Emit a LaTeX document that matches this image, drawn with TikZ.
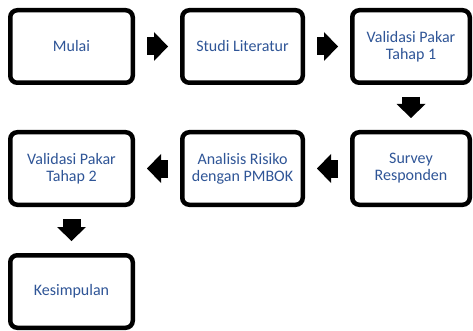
\documentclass[tikz,border=0pt]{standalone}
\usepackage{fontspec}
\setmainfont{Carlito}
\usetikzlibrary{arrows.meta}
\definecolor{txt}{RGB}{47,85,151}
\begin{document}
\begin{tikzpicture}[x=1pt,y=-1pt,
  box/.style={draw=black, line width=4.5pt, rounded corners=7pt, fill=white,
    minimum height=72.5pt, inner sep=2pt, align=center, text=txt,
    font=\fontsize{16}{17}\selectfont},
  flow/.style={draw=black, line width=18pt,
    -{Triangle[length=14pt,width=29pt,line width=0pt]},
    shorten <=12pt, shorten >=12pt}]
\useasboundingbox (0,0) rectangle (473,331);
\node[box, minimum width=122.5pt] (m)  at (71.5,46.5)  {Mulai};
\node[box, minimum width=120.5pt] (sl) at (242.5,46.5) {Studi Literatur};
\node[box, minimum width=117.5pt] (v1) at (411,46.5)   {Validasi Pakar\\Tahap 1};
\node[box, minimum width=117.5pt] (sr) at (411,168.5)  {Survey\\Responden};
\node[box, minimum width=120.5pt] (ar) at (242.5,168.5){Analisis Risiko\\dengan PMBOK};
\node[box, minimum width=122.5pt] (v2) at (71.5,168.5) {Validasi Pakar\\Tahap 2};
\node[box, minimum width=122.5pt] (k)  at (71.5,291.5) {Kesimpulan};
\draw[flow] (m) -- (sl);
\draw[flow] (sl) -- (v1);
\draw[flow] (v1) -- (sr);
\draw[flow] (sr) -- (ar);
\draw[flow] (ar) -- (v2);
\draw[flow] (v2) -- (k);
\end{tikzpicture}
\end{document}
